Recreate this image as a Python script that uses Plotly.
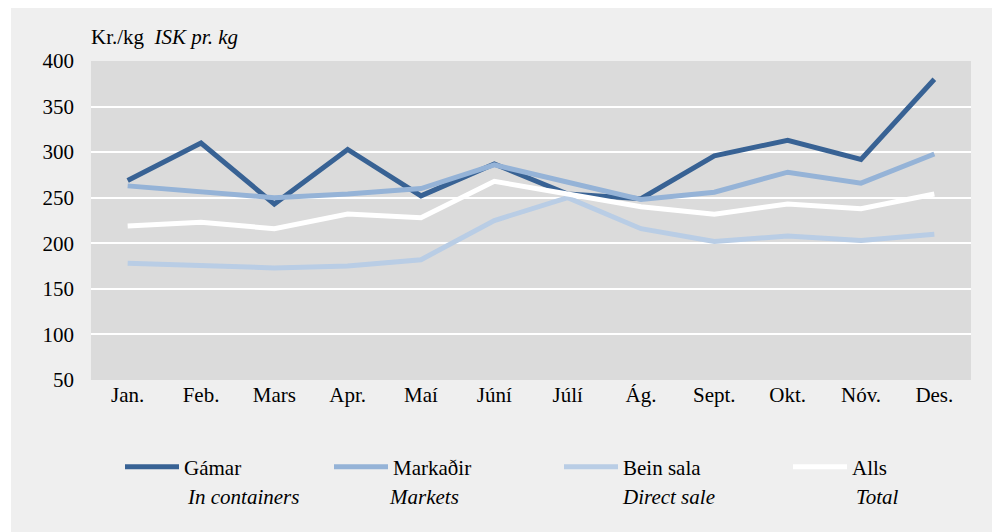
import plotly.graph_objects as go

months = ["Jan.", "Feb.", "Mars", "Apr.", "Maí", "Júní", "Júlí", "Ág.", "Sept.", "Okt.", "Nóv.", "Des."]
gamar = [269, 310, 243, 303, 252, 287, 254, 249, 296, 313, 292, 380]
markadir = [263, 257, 250, 254, 260, 286, 267, 248, 256, 278, 266, 298]
bein_sala = [178, 176, 173, 175, 182, 225, 250, 216, 202, 208, 203, 210]
alls = [219, 223, 216, 232, 228, 268, 254, 240, 232, 243, 238, 254]

names_is = ["Gámar", "Markaðir", "Bein sala", "Alls"]
names_en = ["In containers", "Markets", "Direct sale", "Total"]
colors = ["#386294", "#95b3d7", "#b9cde5", "#ffffff"]
series = [gamar, markadir, bein_sala, alls]

FONT = "Liberation Serif, Times New Roman, serif"
FS = 21

# page body margin offsets the figure by 8px; target coords are page coords
OFF = 8
W, H = 1000 - OFF, 532 - OFF
# plot area in page pixels: x 91..971, y 61..380
PL, PR, PT, PB = 91, 971, 61, 380
L, R, T, B = PL - OFF, W - (PR - OFF), PT - OFF, H - (PB - OFF)
pw, ph = W - L - R, H - T - B

def px_x(x):
    return (x - OFF - L) / pw

def px_y(y):
    return (H - B - (y - OFF)) / ph

legend_sym_x = [120, 329, 559, 788]
en_x = [187, 389, 622, 856]

fig = go.Figure()
legend_keys = ["legend", "legend2", "legend3", "legend4"]
for i in range(4):
    fig.add_trace(go.Scatter(
        x=months, y=series[i], mode="lines", name=names_is[i],
        line=dict(color=colors[i], width=5),
        legend=legend_keys[i], hoverinfo="skip",
    ))

layout_legends = {}
for i in range(4):
    layout_legends[legend_keys[i]] = dict(
        x=px_x(legend_sym_x[i]), xanchor="left",
        y=px_y(467), yanchor="middle",
        bgcolor="rgba(0,0,0,0)", borderwidth=0,
        font=dict(family=FONT, size=FS, color="black"),
        itemwidth=54, itemclick=False, itemdoubleclick=False,
    )

annotations = [
    dict(text="Kr./kg  <i>ISK pr. kg</i>", xref="paper", yref="paper",
         x=px_x(89), xanchor="left", y=px_y(37), yanchor="middle", showarrow=False,
         font=dict(family=FONT, size=FS, color="black"))
]
for i in range(4):
    annotations.append(dict(
        text="<i>" + names_en[i] + "</i>", xref="paper", yref="paper",
        x=px_x(en_x[i]), xanchor="left", y=px_y(497), yanchor="middle",
        showarrow=False, xshift=-2,
        font=dict(family=FONT, size=FS, color="black")))

shapes = [
    dict(type="rect", xref="paper", yref="paper", x0=px_x(OFF), x1=px_x(11),
         y0=px_y(532), y1=px_y(OFF), fillcolor="white", line=dict(width=0), layer="above"),
]

fig.update_layout(
    width=W, height=H,
    margin=dict(l=L, r=R, t=T, b=B),
    paper_bgcolor="#efefef", plot_bgcolor="#dbdbdb",
    font=dict(family=FONT, size=FS, color="black"),
    showlegend=True,
    annotations=annotations, shapes=shapes,
    xaxis=dict(type="category", range=[-0.5, 11.5], showgrid=False, zeroline=False,
               showline=False, ticks="", tickfont=dict(family=FONT, size=FS, color="black"),
               fixedrange=True),
    yaxis=dict(range=[50, 400], dtick=50, tick0=50, showgrid=True, gridcolor="white",
               gridwidth=2, zeroline=False, showline=False, ticks="",
               ticklabelstandoff=16,
               tickfont=dict(family=FONT, size=FS, color="black"), fixedrange=True),
    **layout_legends,
)

fig.write_html("out.html")
